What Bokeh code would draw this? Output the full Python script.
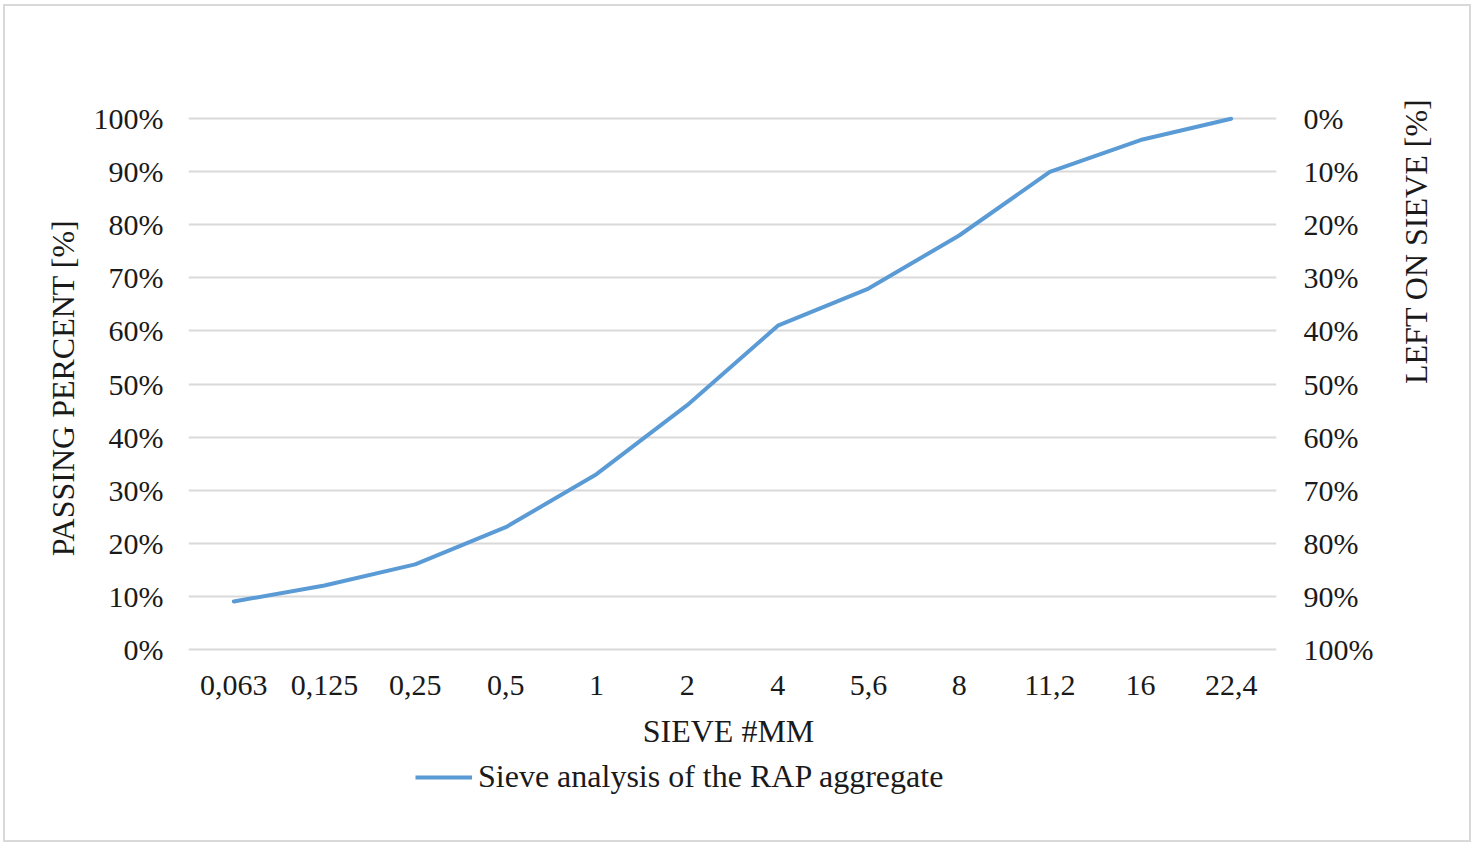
import math

from bokeh.embed import file_html
from bokeh.layouts import column
from bokeh.models import (FactorRange, FixedTicker, Legend, LegendItem,
                          LinearAxis, Range1d)
from bokeh.plotting import figure
from bokeh.resources import INLINE

# Sieve sizes (mm) and cumulative passing percentages
sieve_sizes = ["0,063", "0,125", "0,25", "0,5", "1", "2", "4", "5,6", "8", "11,2", "16", "22,4"]
passing_percent = [9, 12, 16, 23, 33, 46, 61, 68, 78, 90, 96, 100]

# Percentage ticks shared by both vertical axes
percent_ticks = [0, 10, 20, 30, 40, 50, 60, 70, 80, 90, 100]
passing_tick_labels = ["0%", "10%", "20%", "30%", "40%", "50%", "60%", "70%", "80%", "90%", "100%"]
retained_tick_labels = ["0%", "10%", "20%", "30%", "40%", "50%", "60%", "70%", "80%", "90%", "100%"]

FONT = "Liberation Serif"
TEXT = "#1a1a1a"
GRID = "#d9d9d9"
BLUE = "#5b9bd5"
WIDTH = 1464

x_range = FactorRange(factors=sieve_sizes, range_padding=0)
# a little headroom so the 0 % and 100 % grid lines are not cut by the frame
y_range = Range1d(-1, 101)

p = figure(
    width=WIDTH, height=752,
    x_range=x_range, y_range=y_range,
    output_backend="svg", toolbar_location=None,
    min_border_left=183, min_border_right=193,
    min_border_top=107, min_border_bottom=104,
)
p.extra_y_ranges = {"retained": Range1d(start=101, end=-1)}
p.outline_line_color = None
p.background_fill_color = "white"
p.border_fill_color = "white"

p.xgrid.visible = False
p.ygrid.ticker = FixedTicker(ticks=percent_ticks)
p.ygrid.grid_line_color = GRID
p.ygrid.grid_line_width = 2


def style_axis(ax):
    ax.axis_line_color = None
    ax.major_tick_line_color = None
    ax.minor_tick_line_color = None
    ax.major_tick_out = 0
    ax.major_tick_in = 0
    ax.major_label_text_font = FONT
    ax.major_label_text_font_size = "30px"
    ax.major_label_text_color = TEXT
    ax.axis_label_text_font = FONT
    ax.axis_label_text_font_size = "32px"
    ax.axis_label_text_font_style = "normal"
    ax.axis_label_text_color = TEXT


# Left axis: passing percent
yl = p.yaxis[0]
style_axis(yl)
yl.ticker = FixedTicker(ticks=percent_ticks)
yl.major_label_overrides = dict(zip(percent_ticks, passing_tick_labels))
yl.major_label_standoff = 25
yl.axis_label = "PASSING PERCENT  [%]"
yl.axis_label_standoff = 10

# Right axis: material retained on the sieve (reversed scale)
yr = LinearAxis(y_range_name="retained")
style_axis(yr)
yr.ticker = FixedTicker(ticks=percent_ticks)
yr.major_label_overrides = dict(zip(percent_ticks, retained_tick_labels))
yr.major_label_standoff = 27
yr.axis_label = "LEFT ON SIEVE [%]"
yr.axis_label_standoff = 40
if hasattr(yr, "axis_label_orientation"):
    # read from bottom to top, like the left-hand title
    yr.axis_label_orientation = math.pi / 2
p.add_layout(yr, "right")

# Bottom axis: sieve sizes
xb = p.xaxis[0]
style_axis(xb)
xb.major_label_standoff = 21
xb.axis_label = "SIEVE  #MM"
xb.axis_label_standoff = 15

line = p.line(x=sieve_sizes, y=passing_percent, line_color=BLUE, line_width=4,
              line_cap="round", line_join="round")

# Strip under the chart that carries the legend (its frame lines up with the chart's)
lf = figure(
    width=WIDTH, height=82, x_range=x_range, y_range=y_range,
    output_backend="svg", toolbar_location=None,
    x_axis_location=None, y_axis_location=None,
    min_border=0,
)
lf.outline_line_color = None
lf.grid.visible = False
lf.background_fill_color = "white"
lf.border_fill_color = "white"
legend_line = lf.line(x=sieve_sizes, y=passing_percent, line_color=BLUE, line_width=4,
                      visible=False)

legend = Legend(
    items=[LegendItem(label="Sieve analysis of the RAP aggregate", renderers=[legend_line])],
    location=(227, 45), orientation="horizontal",
    border_line_color=None, background_fill_alpha=0,
    padding=0, margin=0, spacing=0,
    glyph_width=57, glyph_height=30, label_standoff=6,
    label_text_font=FONT, label_text_font_size="32px", label_text_color=TEXT,
)
lf.add_layout(legend, "center")

chart = column(
    p, lf, spacing=0,
    styles={"margin-left": "3px", "margin-top": "4px", "box-sizing": "content-box",
            "border": f"2px solid {GRID}", "background": "white"},
)

open("out.html", "w").write(file_html(chart, INLINE))
